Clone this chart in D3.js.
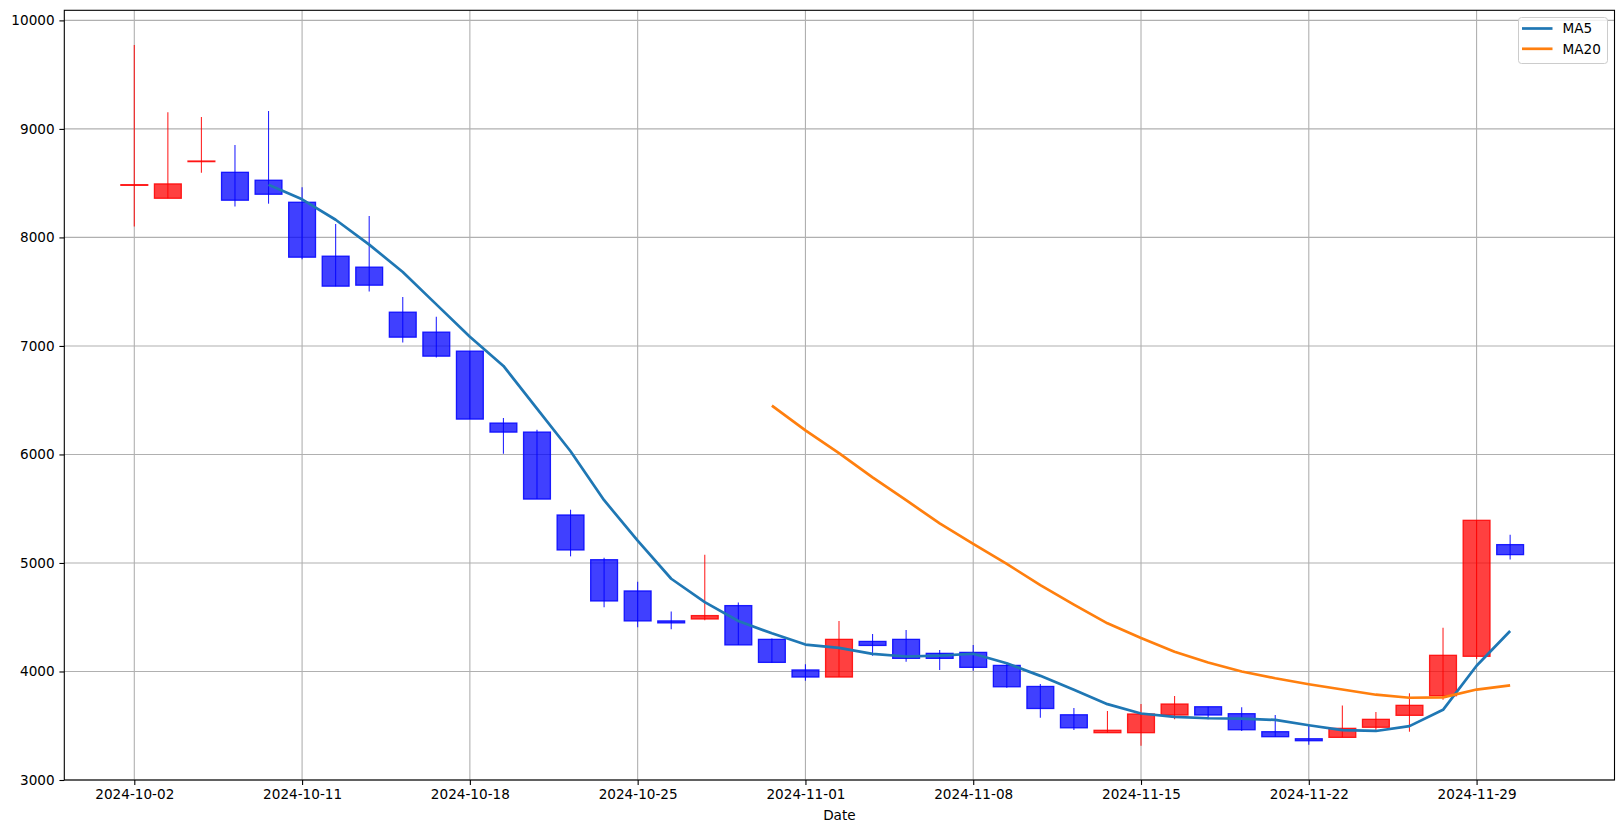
<!DOCTYPE html>
<html>
<head>
<meta charset="utf-8">
<script src="https://cdn.jsdelivr.net/npm/d3@7/dist/d3.min.js"></script>
<style>
  html, body { margin: 0; padding: 0; background: #ffffff; }
  svg { display: block; }
  text { font-family: "DejaVu Sans", sans-serif; fill: #000; }
</style>
</head>
<body>
<svg id="chart" width="1623" height="833"></svg>
<script>
// ---- Data ----
const dates = [
  "2024-10-02","2024-10-07","2024-10-08","2024-10-09","2024-10-10",
  "2024-10-11","2024-10-14","2024-10-15","2024-10-16","2024-10-17",
  "2024-10-18","2024-10-21","2024-10-22","2024-10-23","2024-10-24",
  "2024-10-25","2024-10-28","2024-10-29","2024-10-30","2024-10-31",
  "2024-11-01","2024-11-04","2024-11-05","2024-11-06","2024-11-07",
  "2024-11-08","2024-11-11","2024-11-12","2024-11-13","2024-11-14",
  "2024-11-15","2024-11-18","2024-11-19","2024-11-20","2024-11-21",
  "2024-11-22","2024-11-25","2024-11-26","2024-11-27","2024-11-28",
  "2024-11-29","2024-11-30"
];
const openVals = [
  8480, 8361, 8700, 8600, 8527, 8324, 7827, 7726, 7311, 7127,
  6952, 6289, 6206, 5442, 5030, 4742, 4466, 4484, 4607, 4296,
  4014, 3949, 4277, 4296, 4167, 4176, 4056, 3862, 3601, 3436,
  3436, 3599, 3675, 3611, 3445, 3380, 3393, 3486, 3596, 3777,
  4140, 5169
];
const highVals = [
  9773, 9153, 9110, 8852, 9165, 8462, 8124, 8198, 7452, 7268,
  6952, 6335, 6228, 5491, 5049, 4828, 4552, 5076, 4635, 4305,
  4066, 4465, 4345, 4382, 4198, 4244, 4072, 3885, 3664, 3636,
  3700, 3774, 3675, 3670, 3599, 3498, 3687, 3627, 3799, 4403,
  5393, 5260
];
const lowVals = [
  8100, 8361, 8597, 8284, 8311, 7799, 7551, 7501, 7031, 6893,
  6326, 6007, 5589, 5061, 4591, 4407, 4389, 4472, 4245, 4080,
  3915, 3949, 4146, 4090, 4014, 4007, 3850, 3574, 3461, 3436,
  3316, 3559, 3559, 3451, 3399, 3324, 3393, 3449, 3445, 3740,
  4115, 5031
];
const closeVals = [
  8486, 8493, 8704, 8343, 8398, 7818, 7551, 7560, 7081, 6906,
  6326, 6206, 5589, 5120, 4650, 4466, 4448, 4515, 4245, 4084,
  3949, 4296, 4240, 4121, 4121, 4038, 3859, 3659, 3481, 3458,
  3608, 3700, 3599, 3463, 3399, 3362, 3476, 3559, 3688, 4149,
  5393, 5077
];
// MA5 values from index 4, MA20 values from index 19
const ma5Start = 4;
const ma5Vals = [
  8484.8, 8351.2, 8162.8, 7934.0, 7681.6, 7383.2, 7084.8, 6815.8, 6421.6, 6029.4,
  5578.2, 5206.2, 4854.6, 4639.8, 4464.8, 4351.6, 4248.2, 4217.8, 4162.8, 4138.0,
  4145.4, 4163.2, 4075.8, 3959.6, 3831.6, 3699.0, 3613.0, 3581.2, 3569.2, 3565.6,
  3553.8, 3504.6, 3459.8, 3451.8, 3496.8, 3646.8, 4053.0, 4373.2
];
const ma20Start = 19;
const ma20Vals = [
  6449.5, 6222.6, 6012.8, 5789.6, 5578.5, 5364.6, 5175.6, 4991.0, 4796.0, 4616.0,
  4443.6, 4307.7, 4182.4, 4082.9, 4000.0, 3937.5, 3882.3, 3833.7, 3785.9, 3758.0,
  3761.3, 3833.5, 3872.5
];
const yTicks = [3000, 4000, 5000, 6000, 7000, 8000, 9000, 10000];
const xTickIdx = [0, 5, 10, 15, 20, 25, 30, 35, 40];
const seriesNames = ["MA5", "MA20"];
const seriesColors = ["#1f77b4", "#ff7f0e"];

// ---- Layout ----
const L = 64.3, R = 1614.5, T = 10.3, B = 780;
const svg = d3.select("#chart");

const x = d3.scaleLinear().domain([-2.086, 44.11]).range([L, R]);
const y = d3.scaleLinear().domain([3000, 10093]).range([B, T]);
const step = x(1) - x(0);
const bodyW = step * 0.8;

// Grid
const grid = svg.append("g");
grid.selectAll("line.gx").data(xTickIdx).join("line")
  .attr("x1", d => x(d)).attr("x2", d => x(d))
  .attr("y1", T).attr("y2", B)
  .attr("stroke", "#b0b0b0").attr("stroke-width", 1.1);
grid.selectAll("line.gy").data(yTicks).join("line")
  .attr("x1", L).attr("x2", R)
  .attr("y1", d => y(d)).attr("y2", d => y(d))
  .attr("stroke", "#b0b0b0").attr("stroke-width", 1.1);

// Candles
const candles = dates.map((d, i) => ({
  i, o: openVals[i], h: highVals[i], l: lowVals[i], c: closeVals[i]
}));
const cg = svg.append("g");
cg.selectAll("line.wick").data(candles).join("line")
  .attr("x1", d => x(d.i)).attr("x2", d => x(d.i))
  .attr("y1", d => y(d.h)).attr("y2", d => y(d.l))
  .attr("stroke", d => d.c >= d.o ? "#ff0000" : "#0000ff")
  .attr("stroke-opacity", 0.85)
  .attr("stroke-width", 1.1);
cg.selectAll("rect.body").data(candles).join("rect")
  .attr("x", d => x(d.i) - bodyW / 2)
  .attr("width", bodyW)
  .attr("y", d => y(Math.max(d.o, d.c)))
  .attr("height", d => Math.max(0.6, Math.abs(y(d.o) - y(d.c))))
  .attr("fill", d => d.c >= d.o ? "#ff0000" : "#0000ff")
  .attr("fill-opacity", 0.75)
  .attr("stroke", d => d.c >= d.o ? "#ff0000" : "#0000ff")
  .attr("stroke-opacity", 0.85)
  .attr("stroke-width", 1.3);

// MA lines
const line = d3.line().x(d => x(d[0])).y(d => y(d[1]));
const ma5Pts = ma5Vals.map((v, k) => [ma5Start + k, v]);
const ma20Pts = ma20Vals.map((v, k) => [ma20Start + k, v]);
svg.append("path").datum(ma5Pts).attr("d", line)
  .attr("fill", "none").attr("stroke", seriesColors[0]).attr("stroke-width", 2.7)
  .attr("stroke-linejoin", "round").attr("stroke-linecap", "butt");
svg.append("path").datum(ma20Pts).attr("d", line)
  .attr("fill", "none").attr("stroke", seriesColors[1]).attr("stroke-width", 2.7)
  .attr("stroke-linejoin", "round").attr("stroke-linecap", "butt");

// Spines
svg.append("rect").attr("x", L).attr("y", T).attr("width", R - L).attr("height", B - T)
  .attr("fill", "none").attr("stroke", "#000").attr("stroke-width", 1.1);

// Axes
const fs = "13.6px";
const xAxis = d3.axisBottom(x).tickValues(xTickIdx)
  .tickFormat(i => dates[i]).tickSize(4.9).tickPadding(4.5);
const gx = svg.append("g").attr("transform", `translate(0,${B})`).call(xAxis);
gx.select(".domain").remove();
gx.selectAll("line").attr("stroke", "#000").attr("stroke-width", 1.1);
gx.selectAll("text").style("font-size", fs).style("font-family", "DejaVu Sans").attr("fill", "#000");

const yAxis = d3.axisLeft(y).tickValues(yTicks).tickFormat(d3.format("d"))
  .tickSize(4.9).tickPadding(4.8);
const gy = svg.append("g").attr("transform", `translate(${L},0)`).call(yAxis);
gy.select(".domain").remove();
gy.selectAll("line").attr("stroke", "#000").attr("stroke-width", 1.1);
gy.selectAll("text").style("font-size", fs).style("font-family", "DejaVu Sans").attr("fill", "#000");

// X label
svg.append("text").attr("x", (L + R) / 2).attr("y", 820)
  .attr("text-anchor", "middle").style("font-size", fs).text("Date");

// Legend
const lg = svg.append("g");
lg.append("rect").attr("x", 1518.5).attr("y", 17.5).attr("width", 89).attr("height", 46)
  .attr("rx", 3).attr("fill", "#ffffff").attr("fill-opacity", 0.8)
  .attr("stroke", "#cccccc").attr("stroke-width", 1);
seriesNames.forEach((name, k) => {
  const ly = 28.5 + k * 20.3;
  lg.append("line").attr("x1", 1522).attr("x2", 1552.5).attr("y1", ly).attr("y2", ly)
    .attr("stroke", seriesColors[k]).attr("stroke-width", 2.7);
  lg.append("text").attr("x", 1562.5).attr("y", ly).attr("dy", "0.36em")
    .style("font-size", fs).text(name);
});
</script>
</body>
</html>
